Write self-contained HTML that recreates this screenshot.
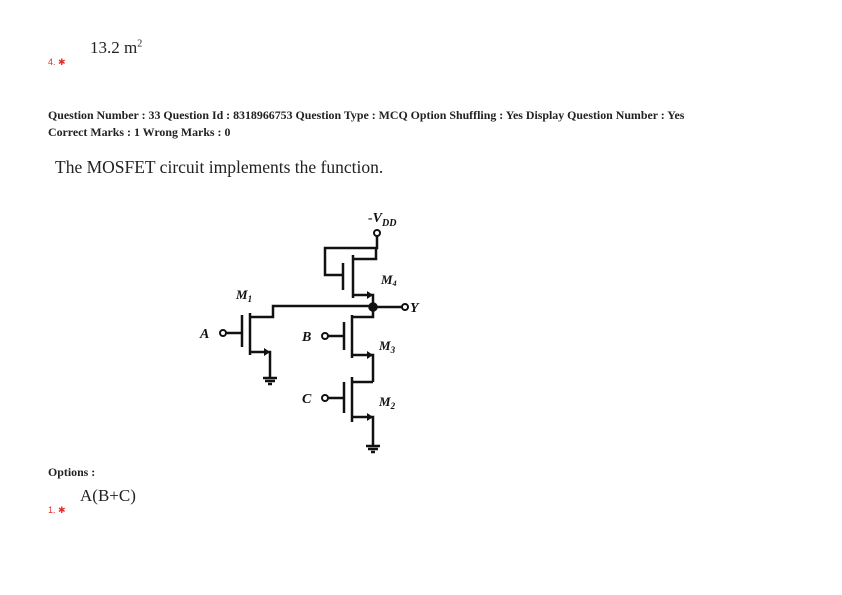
<!DOCTYPE html>
<html><head><meta charset="utf-8"><style>
body{margin:0;width:842px;height:595px;background:#fff;position:relative;overflow:hidden;font-family:"Liberation Serif",serif;color:#222}
.a{position:absolute;white-space:nowrap}
.red{color:#e03030;font-family:"Liberation Sans",sans-serif;font-size:9px}
.b{font-weight:bold;font-size:11.9px}
</style></head><body>
<div class="a" style="left:90px;top:38px;font-size:17px">13.2 m<sup style="font-size:10px">2</sup></div>
<div class="a red" style="left:48px;top:57px">4. ✱</div>
<div class="a b" style="left:48px;top:108px">Question Number : 33 Question Id : 8318966753 Question Type : MCQ Option Shuffling : Yes Display Question Number : Yes</div>
<div class="a b" style="left:48px;top:125px">Correct Marks : 1 Wrong Marks : 0</div>
<div class="a" style="left:55px;top:157px;font-size:17.5px">The MOSFET circuit implements the function.</div>
<div class="a b" style="left:48px;top:465px">Options :</div>
<div class="a" style="left:80px;top:486px;font-size:17px">A(B+C)</div>
<div class="a red" style="left:48px;top:505px">1. ✱</div>
<svg class="a" style="left:0;top:0" width="842" height="595" fill="none" stroke="#111" stroke-width="2.5">
<g font-family="Liberation Serif" font-weight="bold" font-style="italic" fill="#111" stroke="none">
<text x="368" y="222" font-size="14">-V<tspan font-size="10" dy="4">DD</tspan></text>
<text x="381" y="284" font-size="13">M<tspan font-size="8" dy="2">4</tspan></text>
<text x="236" y="299" font-size="13">M<tspan font-size="9" dy="3">1</tspan></text>
<text x="379" y="350" font-size="13">M<tspan font-size="9" dy="3">3</tspan></text>
<text x="379" y="406" font-size="13">M<tspan font-size="9" dy="3">2</tspan></text>
<text x="200" y="338" font-size="14">A</text>
<text x="302" y="341" font-size="14">B</text>
<text x="302" y="403" font-size="14">C</text>
<text x="410" y="312" font-size="14">Y</text>
</g>
<circle cx="377" cy="233" r="3" stroke-width="2"/>
<circle cx="405" cy="307" r="3" stroke-width="2"/>
<circle cx="223" cy="333" r="3" stroke-width="2"/>
<circle cx="325" cy="336" r="3" stroke-width="2"/>
<circle cx="325" cy="398" r="3" stroke-width="2"/>
<circle cx="373" cy="307" r="3.5" fill="#111"/>
<path d="M377 236V248H325V275H343M343 263V290M353 255V298M353 259H376V248M353 295H373V307"/>
<path d="M373 307H402"/>
<path d="M373 306H273V317H250M250 313V355M242 315V347M226 333H242M250 352H270V377"/>
<path d="M373 307V317H352M352 315V358M344 322V350M328 336H344M352 355H373V382"/>
<path d="M352 377V422M344 382V413M328 398H344M352 382H373M352 417H373V445"/>
<g fill="#111" stroke="none">
<path d="M373 295l-6-4v8z"/>
<path d="M270 352l-6-4v8z"/>
<path d="M373 355l-6-4v8z"/>
<path d="M373 417l-6-4v8z"/>
</g>
<path d="M263 378H277M265 381H275M268 384H272" stroke-width="2.5"/>
<path d="M366 446H380M368 449H378M371 452H375" stroke-width="2.5"/>
</svg>
</body></html>
